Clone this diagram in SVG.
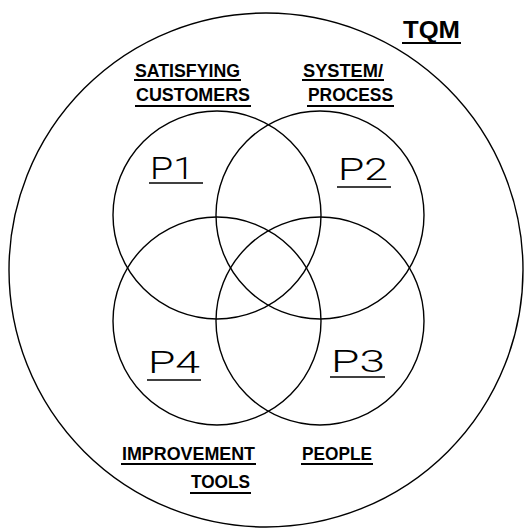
<svg xmlns="http://www.w3.org/2000/svg" width="531" height="531" viewBox="0 0 531 531">
  <style>
    .ring { fill: none; stroke: #000; stroke-width: 1.4; }
    .big { font-family: Roboto, "Liberation Sans", Arial, sans-serif; font-weight: 300; font-size: 32px; fill: #000; }
    .tag { font-family: "Liberation Sans", Arial, sans-serif; font-weight: bold; font-size: 18px; fill: #000; }
    .tqm { font-family: "Liberation Sans", Arial, sans-serif; font-weight: bold; font-size: 24px; fill: #000; }
    .ul { stroke: #000; stroke-width: 2; }
    .ulthin { stroke: #000; stroke-width: 1.4; }
  </style>
  <rect width="531" height="531" fill="#fff"/>

  <!-- outer TQM boundary -->
  <g id="tqm">
    <circle class="ring" cx="266" cy="270" r="257"/>
    <text class="tqm" x="403" y="38" textLength="57" lengthAdjust="spacingAndGlyphs">TQM</text>
    <line class="ul" x1="402" y1="43" x2="461" y2="43"/>
  </g>

  <!-- four overlapping principle circles -->
  <g id="p1">
    <circle class="ring" cx="217" cy="215" r="104"/>
    <text class="big" x="150" y="179" textLength="44" lengthAdjust="spacingAndGlyphs">P1</text>
    <line class="ulthin" x1="149" y1="183" x2="203" y2="183"/>
    <text class="tag" x="135" y="77" textLength="105" lengthAdjust="spacingAndGlyphs">SATISFYING</text>
    <line class="ul" x1="134" y1="80" x2="241" y2="80"/>
    <text class="tag" x="136" y="101" textLength="114" lengthAdjust="spacingAndGlyphs">CUSTOMERS</text>
    <line class="ul" x1="135" y1="106" x2="251" y2="106"/>
  </g>

  <g id="p2">
    <circle class="ring" cx="320" cy="215" r="104"/>
    <text class="big" x="338" y="180" textLength="50" lengthAdjust="spacingAndGlyphs">P2</text>
    <line class="ulthin" x1="337" y1="187" x2="391" y2="187"/>
    <text class="tag" x="303" y="77" textLength="80" lengthAdjust="spacingAndGlyphs">SYSTEM/</text>
    <line class="ul" x1="302" y1="80" x2="384" y2="80"/>
    <text class="tag" x="308" y="101" textLength="85" lengthAdjust="spacingAndGlyphs">PROCESS</text>
    <line class="ul" x1="307" y1="106" x2="394" y2="106"/>
  </g>

  <g id="p3">
    <circle class="ring" cx="320" cy="321" r="104"/>
    <text class="big" x="331" y="372" textLength="54" lengthAdjust="spacingAndGlyphs">P3</text>
    <line class="ulthin" x1="330" y1="377" x2="385" y2="377"/>
    <text class="tag" x="302" y="460" textLength="70" lengthAdjust="spacingAndGlyphs">PEOPLE</text>
    <line class="ul" x1="301" y1="464" x2="373" y2="464"/>
  </g>

  <g id="p4">
    <circle class="ring" cx="217" cy="321" r="104"/>
    <text class="big" x="148" y="373" textLength="52" lengthAdjust="spacingAndGlyphs">P4</text>
    <line class="ulthin" x1="147" y1="380" x2="201" y2="380"/>
    <text class="tag" x="122" y="460" textLength="133" lengthAdjust="spacingAndGlyphs">IMPROVEMENT</text>
    <line class="ul" x1="121" y1="464" x2="256" y2="464"/>
    <text class="tag" x="191" y="488" textLength="59" lengthAdjust="spacingAndGlyphs">TOOLS</text>
    <line class="ul" x1="190" y1="493" x2="251" y2="493"/>
  </g>

  <g id="connectors"></g>
</svg>
